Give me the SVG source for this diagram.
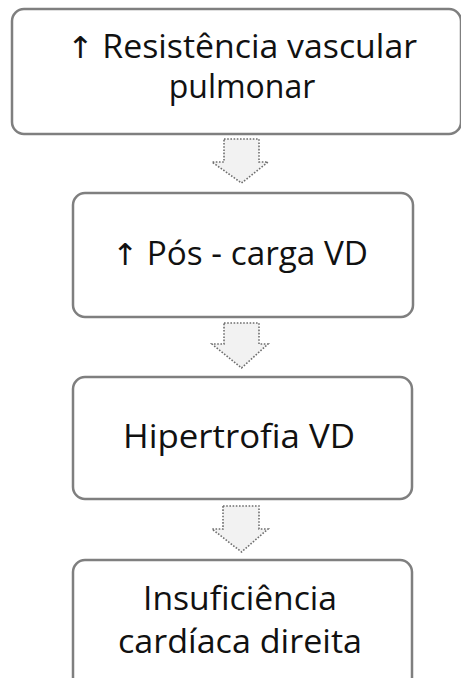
<svg xmlns="http://www.w3.org/2000/svg" width="461" height="678" viewBox="0 0 461 678">
<style>
.box{fill:#ffffff;stroke:#7f7f7f;stroke-width:2.5}
.lbl{font-family:"Open Sans","Liberation Sans",sans-serif;font-size:32px;fill:#111111;text-anchor:middle}
.up{font-family:"DejaVu Sans",sans-serif;font-size:30px}
.arr{fill:#f2f2f2;stroke:#6f6f6f;stroke-width:1.6;stroke-dasharray:1.6 1.6}
</style>
<rect width="461" height="678" fill="#ffffff"/>
<g id="connectors">
<path class="arr" d="M224,139 H259 V162 H268 L241.5,183 L212,162 H224 Z"/>
<path class="arr" d="M224,323 H259 V344 H268 L241.5,368 L212,344 H224 Z"/>
<path class="arr" d="M223,506 H259 V529 H268 L241.5,552 L212,529 H223 Z"/>
</g>
<g id="node1">
<rect class="box" x="12" y="9" width="449" height="125" rx="12"/>
<text class="lbl" x="242" y="58" textLength="350" lengthAdjust="spacingAndGlyphs"><tspan class="up">↑</tspan> Resistência vascular</text>
<text class="lbl" x="242" y="98">pulmonar</text>
</g>
<g id="node2">
<rect class="box" x="73" y="193" width="340" height="124" rx="12"/>
<text class="lbl" x="240" y="265" textLength="256" lengthAdjust="spacingAndGlyphs"><tspan class="up">↑</tspan> Pós - carga VD</text>
</g>
<g id="node3">
<rect class="box" x="73" y="377" width="339" height="122" rx="12"/>
<text class="lbl" x="239" y="448" textLength="232" lengthAdjust="spacingAndGlyphs">Hipertrofia VD</text>
</g>
<g id="node4">
<rect class="box" x="73" y="560" width="339" height="140" rx="12"/>
<text class="lbl" x="240" y="610" textLength="194" lengthAdjust="spacingAndGlyphs">Insuficiência</text>
<text class="lbl" x="240" y="653" textLength="244" lengthAdjust="spacingAndGlyphs">cardíaca direita</text>
</g>
</svg>
